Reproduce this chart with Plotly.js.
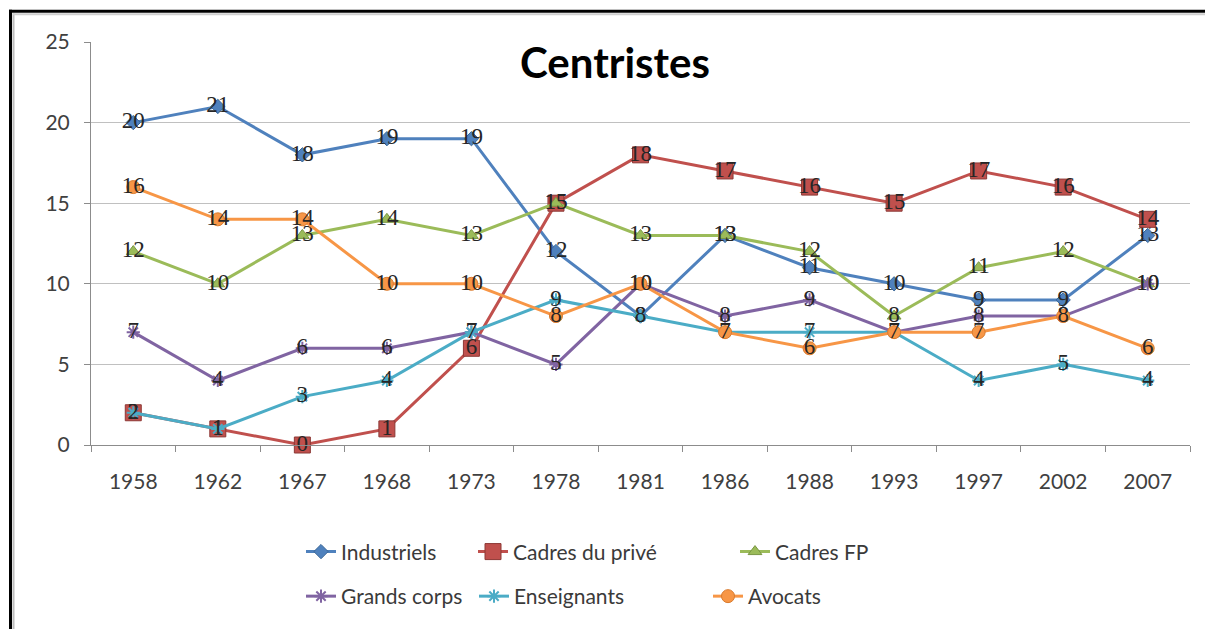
<!DOCTYPE html>
<html>
<head>
<meta charset="utf-8">
<script src="https://cdn.plot.ly/plotly-3.0.1.min.js"></script>
<style>
  html, body { margin: 0; padding: 0; background: #fff; }
  #chart { width: 1205px; height: 629px; }
</style>
</head>
<body>
<div id="chart"></div>
<script>
// ---- data ----
const years = ['1958', '1962', '1967', '1968', '1973', '1978', '1981', '1986', '1988', '1993', '1997', '2002', '2007'];
const industriels   = [20, 21, 18, 19, 19, 12, 8, 13, 11, 10, 9, 9, 13];
const cadresPrive   = [2, 1, 0, 1, 6, 15, 18, 17, 16, 15, 17, 16, 14];
const cadresFP      = [12, 10, 13, 14, 13, 15, 13, 13, 12, 8, 11, 12, 10];
const grandsCorps   = [7, 4, 6, 6, 7, 5, 10, 8, 9, 7, 8, 8, 10];
const enseignants   = [2, 1, 3, 4, 7, 9, 8, 7, 7, 7, 4, 5, 4];
const avocats       = [16, 14, 14, 10, 10, 8, 10, 7, 6, 7, 7, 8, 6];
const seriesNames   = ['Industriels', 'Cadres du privé', 'Cadres FP', 'Grands corps', 'Enseignants', 'Avocats'];
const yTicks        = [0, 5, 10, 15, 20, 25];
const chartTitle    = 'Centristes';

// ---- styles ----
const styles = [
  { color: '#4F81BD', symbol: 'diamond', size: 11, line: '#3A6796', legend: 'legend' },
  { color: '#C0504D', symbol: 'square', size: 16, line: '#8C3835', legend: 'legend2' },
  { color: '#9BBB59', symbol: 'triangle-up', size: 12, line: '#7A9644', legend: 'legend3' },
  { color: '#8064A2', symbol: 'asterisk-open', size: 11, line: '#8064A2', legend: 'legend4' },
  { color: '#4BACC6', symbol: 'asterisk-open', size: 11, line: '#4BACC6', legend: 'legend5' },
  { color: '#F79646', symbol: 'circle', size: 13, line: '#D97B2E', legend: 'legend6' }
];
const values = [industriels, cadresPrive, cadresFP, grandsCorps, enseignants, avocats];

const traces = values.map((v, i) => ({
  type: 'scatter',
  mode: 'lines+markers+text',
  name: seriesNames[i],
  x: years,
  y: v,
  text: v.map(String),
  textposition: 'middle center',
  textfont: { family: 'Liberation Serif, serif', size: 23, color: '#262626' },
  line: { color: styles[i].color, width: 3 },
  marker: {
    symbol: styles[i].symbol,
    size: styles[i].size,
    color: styles[i].color,
    line: { color: styles[i].line, width: (styles[i].symbol.indexOf('asterisk') === 0 ? 2 : 1) }
  },
  legend: styles[i].legend,
  cliponaxis: false,
  hoverinfo: 'x+y+name'
}));

// pixel helpers (plot area: x 91..1190, y 42..449)
const L = 91, R = 1190, T = 42, B = 449;
const px = x => (x - L) / (R - L);
const py = y => (B - y) / (B - T);

const legendFont = { family: 'Lato, sans-serif', size: 21, color: '#3a3a3a' };
function leg(xpx, ypx) {
  return { x: px(xpx), y: py(ypx), xanchor: 'left', yanchor: 'middle', orientation: 'v',
           font: legendFont, bgcolor: 'rgba(0,0,0,0)', borderwidth: 0 };
}

const layout = {
  width: 1205,
  height: 629,
  margin: { l: L, r: 1205 - R, t: T, b: 629 - B, pad: 0 },
  paper_bgcolor: '#ffffff',
  plot_bgcolor: '#ffffff',
  showlegend: true,
  font: { family: 'Lato, sans-serif', color: '#404040' },
  xaxis: {
    type: 'category',
    range: [-0.5, years.length - 0.5],
    autorange: false,
    showgrid: false,
    showline: true,
    linecolor: '#8c8c8c',
    linewidth: 1,
    ticks: 'outside',
    tickson: 'boundaries',
    ticklen: 6,
    tickcolor: '#8c8c8c',
    tickfont: { family: 'Lato, sans-serif', size: 21, color: '#404040' },
    ticklabelstandoff: 18,
    fixedrange: true
  },
  yaxis: {
    range: [0, 25],
    autorange: false,
    tickvals: yTicks,
    ticktext: yTicks.map(String),
    showgrid: true,
    gridcolor: '#c0c0c0',
    gridwidth: 1,
    zeroline: false,
    showline: true,
    linecolor: '#8c8c8c',
    ticks: 'outside',
    ticklen: 6,
    tickcolor: '#8c8c8c',
    tickfont: { family: 'Lato, sans-serif', size: 21, color: '#404040' },
    ticklabelstandoff: 10,
    fixedrange: true
  },
  legend:  leg(301, 557),
  legend2: leg(473, 557),
  legend3: leg(735, 557),
  legend4: leg(301, 602),
  legend5: leg(474, 602),
  legend6: leg(708, 602),
  annotations: [{
    text: '<b>' + chartTitle + '</b>',
    xref: 'paper', yref: 'paper',
    x: px(615), y: py(62),
    xanchor: 'center', yanchor: 'middle',
    showarrow: false,
    font: { family: 'Lato, sans-serif', size: 42, color: '#000000' }
  }],
  shapes: [
    { type: 'line', xref: 'paper', yref: 'paper', x0: px(10.5), x1: px(10.5), y0: py(9.5), y1: py(640),
      line: { color: '#000000', width: 3 } },
    { type: 'line', xref: 'paper', yref: 'paper', x0: px(9), x1: px(1220), y0: py(11), y1: py(11),
      line: { color: '#000000', width: 3 } },
    { type: 'line', xref: 'paper', yref: 'paper', x0: px(13.5), x1: px(13.5), y0: py(13), y1: py(640),
      line: { color: '#bdbdbd', width: 2 } },
    { type: 'line', xref: 'paper', yref: 'paper', x0: px(13), x1: px(1220), y0: py(14), y1: py(14),
      line: { color: '#cfcfcf', width: 2 } }
  ]
};

Plotly.newPlot('chart', traces, layout, { staticPlot: true, displayModeBar: false });
</script>
</body>
</html>
